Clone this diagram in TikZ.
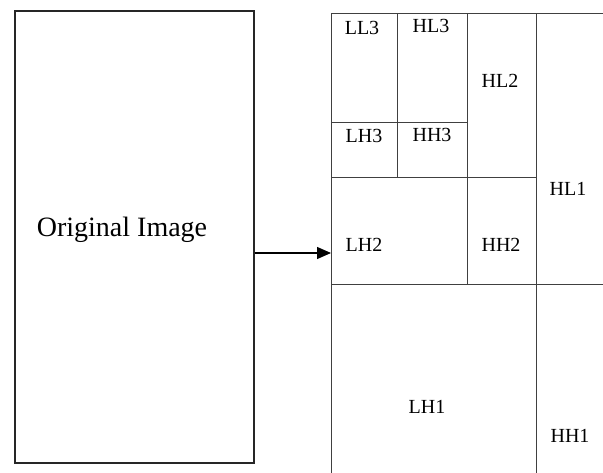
\documentclass[tikz,border=0pt]{standalone}
\usepackage{fontspec}
\setmainfont{Liberation Serif}
\usetikzlibrary{arrows.meta,positioning}

\begin{document}
\begin{tikzpicture}[x=1pt,y=-1pt,
    box/.style={draw=black!85, line width=1.3pt, inner sep=0pt},
    grid/.style={draw=black!75, line width=1pt},
    band/.style={font=\fontsize{20}{24}\selectfont, inner sep=0pt, anchor=base}]
\useasboundingbox (0,0) rectangle (603,473);

% original image
\node[box, minimum width=239pt, minimum height=452pt] (orig) at (134.5,237) {};
\node[font=\fontsize{28}{34}\selectfont, inner sep=0pt, anchor=base] (origtext) at (122,237) {Original Image};

% arrow into the decomposition
\coordinate (gridin) at (331,253);
\draw[line width=1.3pt, -{Triangle[length=14pt,width=12pt]}] (orig.east |- gridin) -- (gridin);

% three-level subband grid
\draw[grid] (331,473) -- (331,14) -- (603,14);
\draw[grid] (331,285) -- (603,285);
\draw[grid] (331,178) -- (536,178);
\draw[grid] (331,123) -- (467,123);
\draw[grid] (397,14) -- (397,178);
\draw[grid] (467,14) -- (467,285);
\draw[grid] (536,14) -- (536,473);

% subband labels
\foreach \name/\x/\y in {LL3/362/35, HL3/431/33, LH3/364/143, HH3/432/142,
    HL2/500/88, LH2/364/252, HH2/501/252, HL1/568/196, LH1/427/413, HH1/570/442}{
    \node[band] (\name) at (\x,\y) {\name};
}
\end{tikzpicture}
\end{document}
